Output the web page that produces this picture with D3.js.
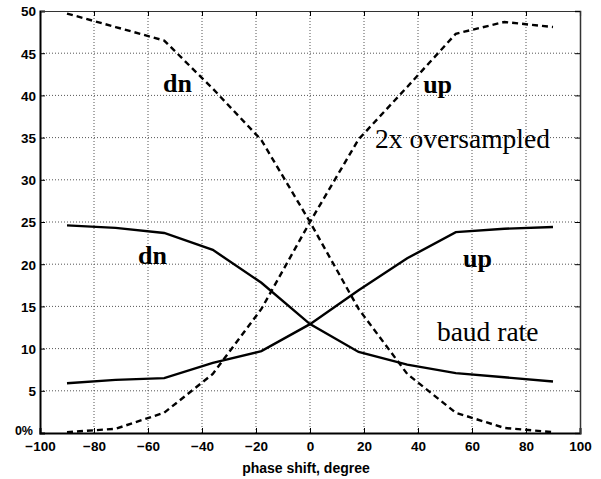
<!DOCTYPE html>
<html>
<head>
<meta charset="utf-8">
<script src="https://cdn.jsdelivr.net/npm/d3@7"></script>
<style>
  body { margin: 0; background: #fff; }
  .tick text { font-family: "Liberation Sans", Arial, sans-serif; font-weight: bold; font-size: 13.5px; fill: #000; }
</style>
</head>
<body>
<div id="viz"></div>
<script>
// phase shift, degree
var phase = [-90, -72, -54, -36, -18, 0, 18, 36, 54, 72, 90];

// 2x oversampled (dashed)
var overDn = [49.7, 48.1, 46.5, 40.8, 34.7, 25.0, 14.7, 7.0, 2.4, 0.6, 0.1];
var overUp = [0.1, 0.5, 2.4, 7.0, 14.7, 25.0, 34.8, 41.0, 47.3, 48.7, 48.1];

// baud rate (solid)
var baudDn = [24.6, 24.3, 23.7, 21.7, 17.8, 12.9, 9.6, 8.1, 7.1, 6.6, 6.1];
var baudUp = [5.9, 6.3, 6.5, 8.3, 9.7, 12.9, 16.9, 20.7, 23.8, 24.2, 24.4];

var xTicks = [-100, -80, -60, -40, -20, 0, 20, 40, 60, 80, 100];
var yTicks = [0, 5, 10, 15, 20, 25, 30, 35, 40, 45, 50];

// text labels in data units
var notes = [
  {text: "dn", x: -54.4, y: 40.4, bold: true},
  {text: "up", x: 41.9, y: 40.3, bold: true},
  {text: "2x oversampled", x: 24.1, y: 33.8, bold: false},
  {text: "dn", x: -63.7, y: 20.0, bold: true},
  {text: "up", x: 56.7, y: 19.7, bold: true},
  {text: "baud rate", x: 47.0, y: 10.9, bold: false}
];

var W = 601, H = 479;
var x = d3.scaleLinear().domain([-100, 100]).range([40, 580]);
var y = d3.scaleLinear().domain([0, 50]).range([433, 11]);

var svg = d3.select("#viz")
    .append("svg")
    .attr("width", W)
    .attr("height", H);

// grid
svg.selectAll("line.vgrid")
    .data(xTicks.slice(1, -1))
    .enter()
    .append("line")
    .attr("x1", function(d){ return x(d); })
    .attr("x2", function(d){ return x(d); })
    .attr("y1", y(0))
    .attr("y2", y(50))
    .style("stroke", "#555")
    .style("stroke-width", 1)
    .style("stroke-dasharray", "1,2");

svg.selectAll("line.hgrid")
    .data(yTicks.slice(1, -1))
    .enter()
    .append("line")
    .attr("x1", x(-100))
    .attr("x2", x(100))
    .attr("y1", function(d){ return y(d); })
    .attr("y2", function(d){ return y(d); })
    .style("stroke", "#555")
    .style("stroke-width", 1)
    .style("stroke-dasharray", "1,2");

// axes
var xAxis = d3.axisBottom(x).tickValues(xTicks).tickSize(-5).tickPadding(9);
var yAxis = d3.axisLeft(y).tickValues(yTicks).tickSize(-5).tickPadding(4)
    .tickFormat(function(d){ return d === 0 ? "0%" : d; });

var gx = svg.append("g").attr("transform", "translate(0," + y(0) + ")").call(xAxis);
var gy = svg.append("g").attr("transform", "translate(" + x(-100) + ",0)").call(yAxis);
var gxTop = svg.append("g").attr("transform", "translate(0," + y(50) + ")")
    .call(d3.axisTop(x).tickValues(xTicks).tickSize(-5).tickFormat(""));
var gyRight = svg.append("g").attr("transform", "translate(" + x(100) + ",0)")
    .call(d3.axisRight(y).tickValues(yTicks).tickSize(-5).tickFormat(""));

gx.select(".domain").style("stroke-width", 2);
gy.select(".domain").style("stroke-width", 2);
gxTop.select(".domain").style("stroke", "#333").style("stroke-width", 1.2);
gyRight.select(".domain").style("stroke", "#333").style("stroke-width", 1.5);
svg.selectAll(".tick line").style("stroke", "#000");
gy.selectAll(".tick text")
    .attr("dy", function(d){ return d === 0 ? "0.1em" : "0.36em"; })
    .attr("x", function(d){ return d === 0 ? -7 : -4; })
    .style("font-size", function(d){ return d === 0 ? "12.5px" : null; });
gx.selectAll(".tick text").attr("dy", "0.7em");

svg.append("text")
    .attr("x", x(-1.5))
    .attr("y", 473)
    .attr("text-anchor", "middle")
    .style("font-family", "Liberation Sans, Arial, sans-serif")
    .style("font-weight", "bold")
    .style("font-size", "14px")
    .text("phase shift, degree");

// curves
var line = d3.line()
    .x(function(d, i){ return x(phase[i]); })
    .y(function(d){ return y(d); });

var curves = [
  {values: overDn, dash: "6,4"},
  {values: overUp, dash: "6,4"},
  {values: baudDn, dash: null},
  {values: baudUp, dash: null}
];

svg.selectAll("path.curve")
    .data(curves)
    .enter()
    .append("path")
    .attr("class", "curve")
    .attr("d", function(d){ return line(d.values); })
    .style("fill", "none")
    .style("stroke", "#000")
    .style("stroke-width", 2.4)
    .style("stroke-dasharray", function(d){ return d.dash; });

// labels
svg.selectAll("text.note")
    .data(notes)
    .enter()
    .append("text")
    .attr("class", "note")
    .attr("x", function(d){ return x(d.x); })
    .attr("y", function(d){ return y(d.y); })
    .style("font-family", "Liberation Serif, Times New Roman, serif")
    .style("font-weight", function(d){ return d.bold ? "bold" : "normal"; })
    .style("font-size", function(d){ return d.bold ? "26px" : "27.5px"; })
    .text(function(d){ return d.text; });
</script>
</body>
</html>
